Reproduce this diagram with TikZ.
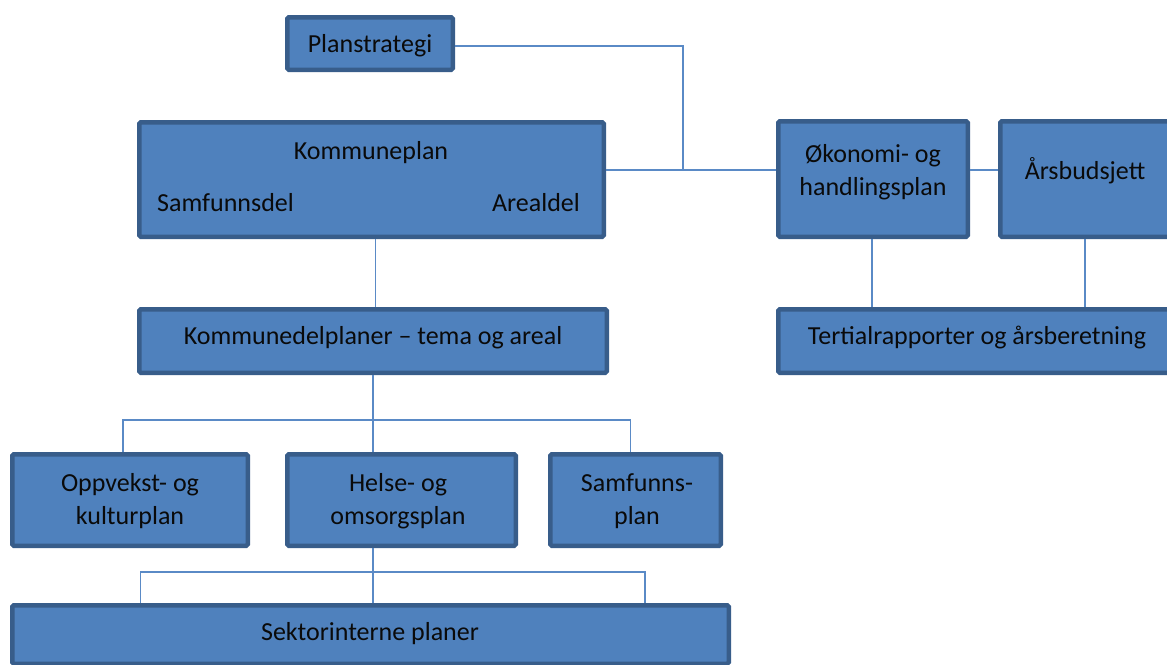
\documentclass[tikz,border=0pt]{standalone}
\usepackage{fontspec}
\setmainfont{Carlito}
\usetikzlibrary{calc}
\definecolor{boxfill}{HTML}{4F81BD}
\definecolor{boxline}{HTML}{385D8A}
\definecolor{conn}{HTML}{5A8AC6}
\definecolor{txt}{HTML}{0A0A0A}
\tikzset{
  box/.style={draw=boxline, fill=boxfill, line width=4.5pt, rounded corners=1.5pt, inner sep=0pt},
  lbl/.style={text=txt, font=\fontsize{26}{33}\selectfont, align=center, inner sep=0pt},
  wire/.style={draw=conn, line width=1.5pt}
}
\begin{document}
\begin{tikzpicture}[x=1pt,y=-1pt]
\useasboundingbox (0,0) rectangle (1167,664);
\clip (0,0) rectangle (1167,664);
\fill[white] (0,0) rectangle (1167,664);
\coordinate (j) at (683,170);
% boxes
\node[box, minimum width=165.5pt, minimum height=52.5pt] (plan) at (370,43.5) {};
\node[box, minimum width=464.5pt, minimum height=114.5pt] (kp) at (371.5,179.5) {};
\node[box, minimum width=467.5pt, minimum height=63.5pt] (kdp) at (373,341) {};
\node[box, minimum width=189.5pt, minimum height=115.5pt] (oko) at (873,179) {};
\node[box, minimum width=169.5pt, minimum height=115.5pt] (ars) at (1085,179) {};
\node[box, minimum width=397.5pt, minimum height=63.5pt] (tert) at (977,341) {};
\node[box, minimum width=235.5pt, minimum height=91.5pt] (opp) at (130,500) {};
\node[box, minimum width=228.5pt, minimum height=91.5pt] (hel) at (401.5,500) {};
\node[box, minimum width=170.5pt, minimum height=91.5pt] (sam) at (635.5,500) {};
\node[box, minimum width=716.5pt, minimum height=58.5pt] (sek) at (370.5,634.5) {};
% wires
\path[wire] (plan.east |- 0,46) -| (j);
\path[wire] (kp.east |- j) -- (oko.west |- j);
\path[wire] (oko.east |- j) -- (ars.west |- j);
\path[wire] ([xshift=-1pt]oko.south) -- ([xshift=-1pt]oko.south |- tert.north);
\path[wire] (ars.south) -- (ars.south |- tert.north);
\path[wire] ([xshift=4pt]kp.south) -- ([xshift=4pt]kp.south |- kdp.north);
\path[wire] (kdp.south) -- (kdp.south |- 0,420) coordinate (b1);
\path[wire] ([xshift=-7pt]opp.north) |- (b1) -| ([xshift=-5pt]sam.north);
\path[wire] (b1) -- (b1 |- hel.north);
\path[wire] (hel.south -| b1) -- (b1 |- 0,572) coordinate (b2);
\path[wire] ([xshift=-232.5pt]sek.north -| b2) |- (b2) -| ([xshift=272pt]sek.north -| b2);
\path[wire] (b2) -- (b2 |- sek.north);
% texts
\node[lbl] (tplan) at (370,46) {Planstrategi};
\node[lbl] (tkp) at (371,153) {Kommuneplan};
\node[lbl, anchor=west] (tsd) at (157,203) {Samfunnsdel};
\node[lbl, anchor=east] (tad) at (580,203) {Arealdel};
\node[lbl] (tkdp) at (373,338) {Kommunedelplaner – tema og areal};
\node[lbl] (toko) at (873,172) {Økonomi- og\\handlingsplan};
\node[lbl] (tars) at (1085,171) {Årsbudsjett};
\node[lbl] (ttert) at (977,338) {Tertialrapporter og årsberetning};
\node[lbl] (topp) at (130,501) {Oppvekst- og\\kulturplan};
\node[lbl] (thel) at (398,501) {Helse- og\\omsorgsplan};
\node[lbl] (tsam) at (637,501) {Samfunns-\\plan};
\node[lbl] (tsek) at (370,634) {Sektorinterne planer};
\end{tikzpicture}
\end{document}
